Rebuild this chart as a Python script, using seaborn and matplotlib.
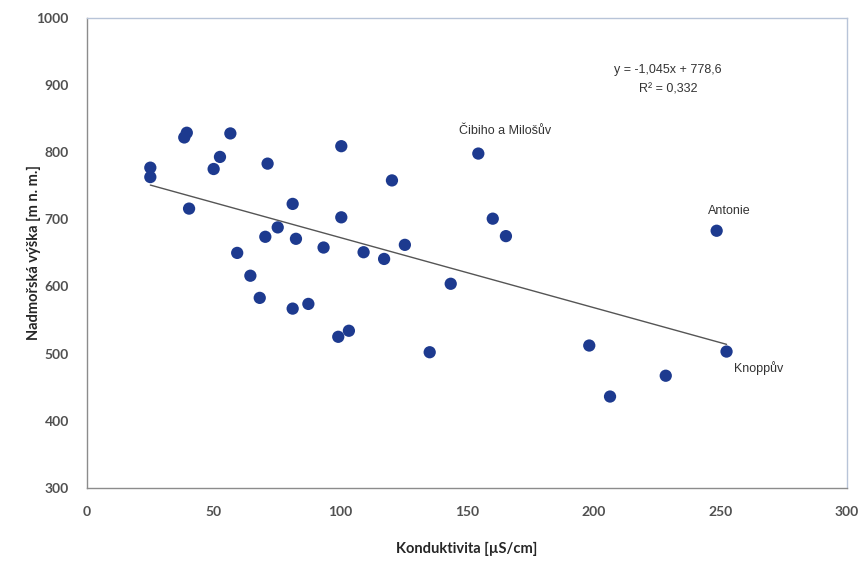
import matplotlib
matplotlib.use("Agg")
import matplotlib.pyplot as plt
import seaborn as sns
import pandas as pd
import numpy as np

konduktivita = [25.0, 25.0, 39.4, 38.4, 56.6, 52.5, 50.0, 71.3, 100.4, 40.3, 81.2, 100.4,
                75.3, 70.4, 82.5, 93.4, 109.2, 59.3, 64.5, 68.2, 81.2, 87.4, 99.2, 103.4,
                120.4, 154.5, 160.2, 165.4, 125.5, 117.3, 143.6, 135.3, 198.3, 206.5,
                248.6, 252.5, 228.5]
vyska = [777, 763, 829, 822, 828, 793, 775, 783, 809, 716, 723, 703,
         688, 674, 671, 658, 651, 650, 616, 583, 567, 574, 525, 534,
         758, 798, 701, 675, 662, 641, 604, 502, 512, 436,
         683, 503, 467]
labels = {"Čibiho a Milošův": (165, 831), "Antonie": (253.5, 713), "Knoppův": (265.3, 478)}
equation_text = "y = -1,045x + 778,6"
r2_text = "R² = 0,332"

df = pd.DataFrame({"x": konduktivita, "y": vyska})

sns.set_style("white")
plt.rcParams["font.family"] = ["Lato", "DejaVu Sans"]

fig = plt.figure(figsize=(8.58, 5.62), dpi=100)
ax = fig.add_axes([0.1014, 0.132, 0.8856, 0.836])

sns.regplot(data=df, x="x", y="y", ax=ax, ci=None, truncate=True,
            scatter_kws=dict(s=78, color="#1d3a8f", edgecolor="none", zorder=3, alpha=1),
            line_kws=dict(color="#555555", lw=1.0, zorder=2))

ax.set_xlim(0, 300)
ax.set_ylim(300, 1000)
ax.set_xticks(range(0, 301, 50))
ax.set_yticks(range(300, 1001, 100))
ax.tick_params(axis="both", labelsize=10, length=3, direction="out", width=0.8,
               colors="#8c8c8c", labelcolor="#505050")
ax.tick_params(axis="y", pad=10)
ax.tick_params(axis="x", pad=10)
for lab in ax.get_xticklabels() + ax.get_yticklabels():
    lab.set_fontweight("bold")

ax.set_xlabel("Konduktivita [µS/cm]", fontsize=10.5, fontweight="bold", color="#262626", labelpad=17)
ax.set_ylabel("Nadmořská výška [m n. m.]", fontsize=10.5, fontweight="bold", color="#262626")
ax.yaxis.set_label_coords(-0.061, 0.5)

for side in ["left", "bottom"]:
    ax.spines[side].set_color("#8c8c8c")
    ax.spines[side].set_linewidth(1.0)
for side in ["top", "right"]:
    ax.spines[side].set_color("#b8c4d8")
    ax.spines[side].set_linewidth(1.0)

for name, (tx, ty) in labels.items():
    ax.text(tx, ty, name, ha="center", va="center", fontsize=9, color="#333333",
            family=["Liberation Sans", "DejaVu Sans"])

ax.text(229.4, 923, equation_text, ha="center", va="center", fontsize=9, color="#333333",
        family=["Liberation Sans", "DejaVu Sans"])
ax.text(229.4, 893, r2_text, ha="center", va="center", fontsize=9, color="#333333",
        family=["Liberation Sans", "DejaVu Sans"])

fig.savefig("out.png", dpi=100)
